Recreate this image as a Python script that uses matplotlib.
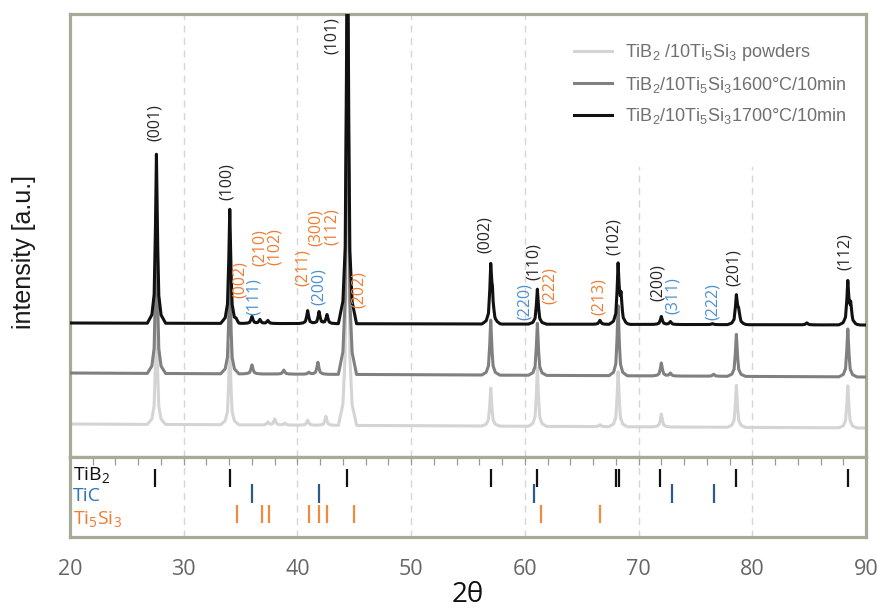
import numpy as np
import matplotlib
matplotlib.use("Agg")
import matplotlib.pyplot as plt
from matplotlib.patches import Rectangle
from matplotlib.ticker import MultipleLocator

# ---------------- diffraction data ----------------
# peak positions (2θ, deg) and peak heights (a.u.) of each measured pattern
powder_peaks = [27.6, 34.05, 37.4, 38.0, 38.9, 40.9, 42.5, 44.4, 57.0, 61.1,
                66.6, 68.2, 72.0, 78.6, 88.4]
powder_heights = [110, 80, 3, 6, 2, 5, 9, 420, 38, 58,
                  2, 55, 13, 42, 42]
powder_baseline = (33, 29)          # background level at 20° and 90°

s1600_peaks = [27.6, 34.05, 36.0, 38.8, 41.0, 41.8, 44.4, 57.0, 61.1, 68.2,
               72.0, 72.8, 76.6, 78.6, 88.4]
s1600_heights = [150, 100, 9, 4, 2, 12, 450, 55, 52, 70,
                 13, 3, 2, 42, 48]
s1600_baseline = (84, 80)

s1700_peaks = [27.6, 34.05, 34.6, 36.0, 36.7, 37.4, 40.9, 41.9, 42.6, 44.4,
               57.0, 57.15, 61.1, 66.6, 68.2, 68.45, 72.0, 72.8, 76.5, 78.6,
               78.8, 84.8, 88.4, 88.65]
s1700_heights = [169, 114, 2, 7, 4, 3, 13, 12, 9, 450,
                 54, 20, 35, 4, 58, 25, 8, 3, 1, 28,
                 12, 2, 42, 18]
s1700_baseline = (134, 132)

series_labels = [r"TiB$_\mathregular{2}$ /10Ti$_\mathregular{5}$Si$_\mathregular{3}$ powders",
                 r"TiB$_\mathregular{2}$/10Ti$_\mathregular{5}$Si$_\mathregular{3}$1600°C/10min",
                 r"TiB$_\mathregular{2}$/10Ti$_\mathregular{5}$Si$_\mathregular{3}$1700°C/10min"]

# reference reflections (2θ, deg)
tib2_ref = [27.5, 34.1, 44.4, 57.0, 61.1, 68.0, 68.25, 71.9, 78.6, 88.4]
tic_ref = [36.0, 41.9, 60.8, 72.9, 76.6]
ti5si3_ref = [34.7, 36.9, 37.5, 41.0, 41.9, 42.6, 45.0, 61.4, 66.6]

# hkl annotations: text, 2θ, height, phase
hkl_text = ["(001)", "(100)", "(002)", "(111)", "(210)", "(102)", "(211)", "(200)",
            "(300)", "(112)", "(101)", "(202)", "(002)", "(220)", "(110)", "(222)",
            "(213)", "(102)", "(200)", "(311)", "(222)", "(201)", "(112)"]
hkl_pos = [27.5, 33.8, 34.95, 36.2, 36.7, 38.0, 40.5, 41.9,
           41.6, 43.0, 43.0, 45.4, 56.5, 60.0, 60.8, 62.2,
           66.5, 67.8, 71.7, 73.0, 76.5, 78.4, 88.1]
hkl_height = [334, 275, 177, 160, 209, 210, 189, 170,
              229, 230, 421, 167, 222, 155, 195, 171,
              160, 220, 174, 161, 155, 189, 205]
hkl_phase = ["TiB2", "TiB2", "Ti5Si3", "TiC", "Ti5Si3", "Ti5Si3", "Ti5Si3", "TiC",
             "Ti5Si3", "Ti5Si3", "TiB2", "Ti5Si3", "TiB2", "TiC", "TiB2", "Ti5Si3",
             "Ti5Si3", "TiB2", "TiB2", "TiC", "TiC", "TiB2", "TiB2"]

# ---------------- styling ----------------
phase_text_color = {"TiB2": "#262626", "TiC": "#4a90d0", "Ti5Si3": "#ed7d31"}
stick_color = {"TiB2": "#111111", "TiC": "#2e5a88", "Ti5Si3": "#f08a3c"}
frame_color = "#a8a996"
grid_color = "#d6d6d6"

# line shape used to draw each reflection (offset in deg, relative height)
shape_dx = [-0.8, -0.4, -0.2, -0.1, 0.0, 0.1, 0.2, 0.4, 0.8]
shape_f = [0.0, 0.05, 0.17, 0.5, 1.0, 0.5, 0.17, 0.05, 0.0]


def pattern(x, peaks, heights, baseline):
    y = baseline[0] + (baseline[1] - baseline[0]) * (x - 20) / 70.0
    for c, h in zip(peaks, heights):
        y = y + h * np.interp(x - c, shape_dx, shape_f, left=0, right=0)
    return y


plt.rcParams["font.family"] = ["Open Sans", "DejaVu Sans"]

fig = plt.figure(figsize=(8.79, 6.13), dpi=100)
W, H = 879, 613
x0, x1 = 70, 866
y_top, y_mid, y_bot = 14, 457, 537

ax = fig.add_axes([x0 / W, 1 - y_mid / H, (x1 - x0) / W, (y_mid - y_top) / H])
ax2 = fig.add_axes([x0 / W, 1 - y_bot / H, (x1 - x0) / W, (y_bot - y_mid) / H])

tt = np.linspace(20, 90, 7001)
ax.plot(tt, pattern(tt, powder_peaks, powder_heights, powder_baseline),
        color="#d4d4d4", lw=2.2, label=series_labels[0], zorder=2)
ax.plot(tt, pattern(tt, s1600_peaks, s1600_heights, s1600_baseline),
        color="#808080", lw=2.2, label=series_labels[1], zorder=3)
ax.plot(tt, pattern(tt, s1700_peaks, s1700_heights, s1700_baseline),
        color="#111111", lw=2.2, label=series_labels[2], zorder=4)

for txt, px, py, ph in zip(hkl_text, hkl_pos, hkl_height, hkl_phase):
    ax.text(px, py, txt, rotation=90, ha="center", va="center", fontsize=11.5,
            color=phase_text_color[ph], zorder=6)

ax.set_xlim(20, 90)
ax.set_ylim(0, y_mid - y_top)
ax.set_xticks(np.arange(20, 91, 10))
ax.set_yticks([])
ax.tick_params(axis="x", length=0, labelbottom=False)
ax.set_axisbelow(True)
ax.grid(axis="x", color=grid_color, lw=1.0, ls=(0, (5, 4)))

# white backing behind the legend block
ax.add_patch(Rectangle((0.622, 0.655), 0.378, 0.345, transform=ax.transAxes,
                       facecolor="white", edgecolor="none", zorder=0.8))
leg = ax.legend(loc="upper left", bbox_to_anchor=(0.624, 0.952), frameon=False,
                prop={"family": ["Liberation Sans", "DejaVu Sans"], "size": 13},
                handlelength=2.1, handletextpad=0.72, labelspacing=0.62,
                borderaxespad=0, borderpad=0.4)
for t in leg.get_texts():
    t.set_color("#707070")

# reference stick patterns
ax2.vlines(tib2_ref, 50, 68, color=stick_color["TiB2"], lw=1.6)
ax2.vlines(tic_ref, 34, 53, color=stick_color["TiC"], lw=1.6)
ax2.vlines(ti5si3_ref, 14, 32, color=stick_color["Ti5Si3"], lw=1.6)
ax2.text(20.25, 61, r"TiB$_\mathregular{2}$", fontsize=14, color="#111111",
         ha="left", va="center")
ax2.text(20.25, 41, "TiC", fontsize=14, color="#2e75b6", ha="left", va="center")
ax2.text(20.25, 17, r"Ti$_\mathregular{5}$Si$_\mathregular{3}$", fontsize=14,
         color="#ed7d31", ha="left", va="center")

ax2.set_xlim(20, 90)
ax2.set_ylim(0, y_bot - y_mid)
ax2.set_yticks([])
ax2.xaxis.set_major_locator(MultipleLocator(10))
ax2.xaxis.set_minor_locator(MultipleLocator(2))
ax2.tick_params(axis="x", which="both", top=True, bottom=False, direction="in",
                length=5.5, width=0.9, color="#9a9a9a", labelbottom=True,
                labelsize=15.5, labelcolor="#666666", pad=16)
ax2.set_axisbelow(True)
ax2.grid(axis="x", which="major", color=grid_color, lw=1.0, ls=(0, (5, 4)))
ax2.set_xlabel("2θ", fontsize=20, color="#111111")
ax2.xaxis.set_label_coords(0.5, -0.55)
ax2.xaxis.label.set_va("top")

for a in (ax, ax2):
    for s in a.spines.values():
        s.set_color(frame_color)
        s.set_linewidth(2.3)

fig.text(24 / W, 1 - 252 / H, "intensity [a.u.]", rotation=90, ha="center",
         va="center", fontsize=18, color="#1a1a1a",
         family=["Liberation Sans", "DejaVu Sans"])

fig.savefig("out.png", dpi=100)
